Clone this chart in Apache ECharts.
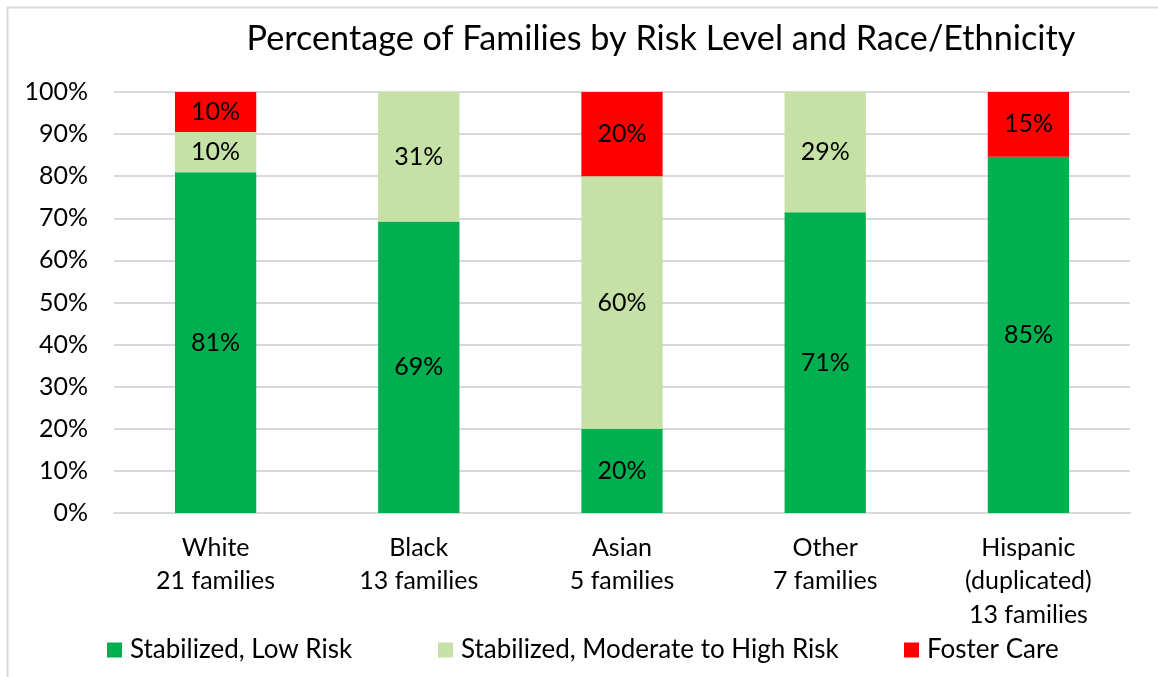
<!DOCTYPE html>
<html>
<head>
<meta charset="utf-8">
<script src="https://cdn.jsdelivr.net/npm/echarts@6/dist/echarts.min.js"></script>
<style>
  html, body { margin: 0; padding: 0; background: #fff; }
  #chart { width: 1158px; height: 677px; }
</style>
</head>
<body>
<div id="chart"></div>
<script>
// Groups along the x axis (label lines joined with \n)
const categories = [
  'White\n21 families',
  'Black\n13 families',
  'Asian\n5 families',
  'Other\n7 families',
  'Hispanic\n(duplicated)\n13 families'
];

// Share of families in each outcome, percent
const lowRisk      = [80.95, 69.23, 20, 71.43, 84.62];
const moderateRisk = [9.52, 30.77, 60, 28.57, 0];
const fosterCare   = [9.52, 0, 20, 0, 15.38];

const seriesNames = ['Stabilized, Low Risk', 'Stabilized, Moderate to High Risk', 'Foster Care'];
const seriesColors = ['#00b050', '#c5e1a5', '#ff0000'];

const FONT = 'Lato, "Open Sans", "Noto Sans", sans-serif';
const TEXT_SIZE = 25;

const chart = echarts.init(document.getElementById('chart'), null, { renderer: 'canvas' });

function barSeries(name, data, color) {
  return {
    name: name,
    type: 'bar',
    stack: 'total',
    data: data,
    barWidth: '40%',
    itemStyle: { color: color },
    label: {
      show: true,
      position: 'inside',
      color: '#000',
      fontFamily: FONT,
      fontSize: TEXT_SIZE,
      formatter: p => (p.value > 0 ? Math.round(p.value) + '%' : '')
    },
    emphasis: { disabled: true }
  };
}

const legendLefts = [107, 438, 904];

chart.setOption({
  animation: false,
  textStyle: { fontFamily: FONT },
  title: {
    text: 'Percentage of Families by Risk Level and Race/Ethnicity',
    left: 656,
    textAlign: 'center',
    top: 17,
    textStyle: { fontFamily: FONT, fontSize: 34.2, fontWeight: 'normal', color: '#000' }
  },
  graphic: [{
    type: 'rect',
    shape: { x: 7.5, y: 7.5, width: 1200, height: 700 },
    style: { fill: 'none', stroke: '#d9d9d9', lineWidth: 2 },
    silent: true
  }],
  legend: seriesNames.map((n, i) => ({
    data: [n],
    left: legendLefts[i],
    top: 637,
    padding: 0,
    itemWidth: 15,
    itemHeight: 15,
    itemGap: 0,
    icon: 'rect',
    selectedMode: false,
    textStyle: { fontFamily: FONT, fontSize: 26, color: '#000', padding: [0, 0, 0, 3] }
  })),
  grid: { left: 114, right: 28, top: 92, bottom: 164, containLabel: false },
  xAxis: {
    type: 'category',
    data: categories,
    axisLine: { show: true, lineStyle: { color: '#d9d9d9', width: 2 } },
    axisTick: { show: false },
    axisLabel: {
      color: '#000',
      fontFamily: FONT,
      fontSize: TEXT_SIZE,
      lineHeight: 33.5,
      margin: 18,
      interval: 0
    }
  },
  yAxis: {
    type: 'value',
    min: 0,
    max: 100,
    interval: 10,
    axisLine: { show: false },
    axisTick: { show: false },
    splitLine: { lineStyle: { color: '#d9d9d9', width: 2 } },
    axisLabel: {
      color: '#000',
      fontFamily: FONT,
      fontSize: TEXT_SIZE,
      margin: 26,
      formatter: v => v + '%'
    }
  },
  series: [
    barSeries(seriesNames[0], lowRisk, seriesColors[0]),
    barSeries(seriesNames[1], moderateRisk, seriesColors[1]),
    barSeries(seriesNames[2], fosterCare, seriesColors[2])
  ]
});
</script>
</body>
</html>
